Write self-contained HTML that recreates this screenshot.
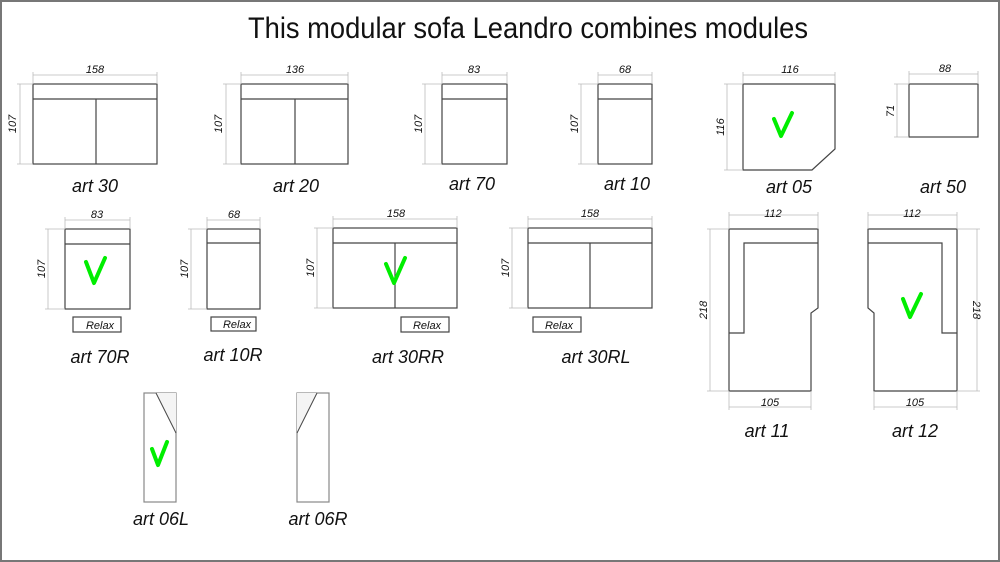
<!DOCTYPE html>
<html><head><meta charset="utf-8"><style>
html,body{margin:0;padding:0;background:#fff;}
svg{display:block;}
text{font-family:"Liberation Sans",Arial,sans-serif;fill:#111;}
.l{font-style:italic;font-size:18px;}
.d{font-style:italic;font-size:11px;}
.r{font-style:italic;font-size:11px;}
.s{fill:none;stroke:#444;stroke-width:1.2;}
.dm{fill:none;stroke:#bbb;stroke-width:0.8;}
.ck{fill:none;stroke:#00ee00;stroke-width:4;stroke-linecap:round;stroke-linejoin:round;}
</style></head><body>
<svg width="1000" height="562" viewBox="0 0 1000 562" xmlns="http://www.w3.org/2000/svg">
<rect x="1" y="1" width="998" height="560" fill="#fff" stroke="#777" stroke-width="2"/>
<text x="528" y="38" font-size="30" text-anchor="middle" textLength="560" lengthAdjust="spacingAndGlyphs">This modular sofa Leandro combines modules</text>

<!-- art 30 -->
<rect class="s" x="33" y="84" width="124" height="80"/><line class="s" x1="33" y1="99" x2="157" y2="99"/><line class="s" x1="96" y1="99" x2="96" y2="164"/>
<path class="dm" d="M33 75H157M33 72V84M157 72V84M20 84V164M17 84H33M17 164H33"/>
<text class="d" x="95" y="73" text-anchor="middle">158</text>
<text class="d" transform="translate(16,124) rotate(-90)" text-anchor="middle">107</text>
<text class="l" x="95" y="192" text-anchor="middle">art 30</text>

<!-- art 20 -->
<rect class="s" x="241" y="84" width="107" height="80"/><line class="s" x1="241" y1="99" x2="348" y2="99"/><line class="s" x1="295" y1="99" x2="295" y2="164"/>
<path class="dm" d="M241 75H348M241 72V84M348 72V84M226 84V164M223 84H241M223 164H241"/>
<text class="d" x="295" y="73" text-anchor="middle">136</text>
<text class="d" transform="translate(222,124) rotate(-90)" text-anchor="middle">107</text>
<text class="l" x="296" y="192" text-anchor="middle">art 20</text>

<!-- art 70 -->
<rect class="s" x="442" y="84" width="65" height="80"/><line class="s" x1="442" y1="99" x2="507" y2="99"/>
<path class="dm" d="M442 75H507M442 72V84M507 72V84M425 84V164M422 84H442M422 164H442"/>
<text class="d" x="474" y="73" text-anchor="middle">83</text>
<text class="d" transform="translate(422,124) rotate(-90)" text-anchor="middle">107</text>
<text class="l" x="472" y="190" text-anchor="middle">art 70</text>

<!-- art 10 -->
<rect class="s" x="598" y="84" width="54" height="80"/><line class="s" x1="598" y1="99" x2="652" y2="99"/>
<path class="dm" d="M598 75H652M598 72V84M652 72V84M581 84V164M578 84H598M578 164H598"/>
<text class="d" x="625" y="73" text-anchor="middle">68</text>
<text class="d" transform="translate(578,124) rotate(-90)" text-anchor="middle">107</text>
<text class="l" x="627" y="190" text-anchor="middle">art 10</text>

<!-- art 05 -->
<path class="s" d="M743 84H835V149L812 170H743Z"/>
<path class="dm" d="M743 75H835M743 72V84M835 72V84M727 84V170M724 84H743M724 170H743"/>
<text class="d" x="790" y="73" text-anchor="middle">116</text>
<text class="d" transform="translate(724,127) rotate(-90)" text-anchor="middle">116</text>
<path class="ck" d="M774 119L781 136L792 113"/>
<text class="l" x="789" y="193" text-anchor="middle">art 05</text>

<!-- art 50 -->
<rect class="s" x="909" y="84" width="69" height="53"/>
<path class="dm" d="M909 74H978M909 71V84M978 71V84M897 84V137M894 84H909M894 137H909"/>
<text class="d" x="945" y="72" text-anchor="middle">88</text>
<text class="d" transform="translate(894,111) rotate(-90)" text-anchor="middle">71</text>
<text class="l" x="943" y="193" text-anchor="middle">art 50</text>

<!-- art 70R -->
<rect class="s" x="65" y="229" width="65" height="80"/><line class="s" x1="65" y1="244" x2="130" y2="244"/>
<path class="dm" d="M65 220H130M65 217V229M130 217V229M48 229V309M45 229H65M45 309H65"/>
<text class="d" x="97" y="218" text-anchor="middle">83</text>
<text class="d" transform="translate(45,269) rotate(-90)" text-anchor="middle">107</text>
<path class="ck" d="M86 262L94 283L105 258"/>
<rect class="s" x="73" y="317" width="48" height="15"/><text class="r" x="100" y="329" text-anchor="middle">Relax</text>
<text class="l" x="100" y="363" text-anchor="middle">art 70R</text>

<!-- art 10R -->
<rect class="s" x="207" y="229" width="53" height="80"/><line class="s" x1="207" y1="243" x2="260" y2="243"/>
<path class="dm" d="M207 220H260M207 217V229M260 217V229M191 229V309M188 229H207M188 309H207"/>
<text class="d" x="234" y="218" text-anchor="middle">68</text>
<text class="d" transform="translate(188,269) rotate(-90)" text-anchor="middle">107</text>
<rect class="s" x="211" y="317" width="45" height="14"/><text class="r" x="237" y="328" text-anchor="middle">Relax</text>
<text class="l" x="233" y="361" text-anchor="middle">art 10R</text>

<!-- art 30RR -->
<rect class="s" x="333" y="228" width="124" height="80"/><line class="s" x1="333" y1="243" x2="457" y2="243"/><line class="s" x1="395" y1="243" x2="395" y2="308"/>
<path class="dm" d="M333 219H457M333 216V228M457 216V228M317 228V308M314 228H333M314 308H333"/>
<text class="d" x="396" y="217" text-anchor="middle">158</text>
<text class="d" transform="translate(314,268) rotate(-90)" text-anchor="middle">107</text>
<path class="ck" d="M386 264L394 283L405 258"/>
<rect class="s" x="401" y="317" width="48" height="15"/><text class="r" x="427" y="329" text-anchor="middle">Relax</text>
<text class="l" x="408" y="363" text-anchor="middle">art 30RR</text>

<!-- art 30RL -->
<rect class="s" x="528" y="228" width="124" height="80"/><line class="s" x1="528" y1="243" x2="652" y2="243"/><line class="s" x1="590" y1="243" x2="590" y2="308"/>
<path class="dm" d="M528 219H652M528 216V228M652 216V228M512 228V308M509 228H528M509 308H528"/>
<text class="d" x="590" y="217" text-anchor="middle">158</text>
<text class="d" transform="translate(509,268) rotate(-90)" text-anchor="middle">107</text>
<rect class="s" x="533" y="317" width="48" height="15"/><text class="r" x="559" y="329" text-anchor="middle">Relax</text>
<text class="l" x="596" y="363" text-anchor="middle">art 30RL</text>

<!-- art 11 -->
<path class="s" d="M729 229H818V308L811 313V391H729Z"/>
<path class="s" d="M818 243H744V333H729"/>
<path class="dm" d="M729 215H818M729 212V229M818 212V229M710 229V391M707 229H729M707 391H729M729 407H811M729 391V410M811 391V410"/>
<text class="d" x="773" y="217" text-anchor="middle">112</text>
<text class="d" x="770" y="406" text-anchor="middle">105</text>
<text class="d" transform="translate(707,310) rotate(-90)" text-anchor="middle">218</text>
<text class="l" x="767" y="437" text-anchor="middle">art 11</text>

<!-- art 12 -->
<path class="s" d="M957 229H868V308L874 313V391H957Z"/>
<path class="s" d="M868 243H942V333H957"/>
<path class="dm" d="M868 215H957M868 212V229M957 212V229M977 229V391M957 229H980M957 391H980M874 407H957M874 391V410M957 391V410"/>
<text class="d" x="912" y="217" text-anchor="middle">112</text>
<text class="d" x="915" y="406" text-anchor="middle">105</text>
<text class="d" transform="translate(973,310) rotate(90)" text-anchor="middle">218</text>
<path class="ck" d="M903 299L910 317L921 294"/>
<text class="l" x="915" y="437" text-anchor="middle">art 12</text>

<!-- art 06L -->
<rect x="144" y="393" width="32" height="109" fill="none" stroke="#888" stroke-width="1.2"/>
<path d="M156 393L176 433V393Z" fill="#f4f4f4"/><line x1="156" y1="393" x2="176" y2="433" stroke="#444" stroke-width="1"/>
<path class="ck" d="M152 449L158 465L167 442"/>
<text class="l" x="161" y="525" text-anchor="middle">art 06L</text>

<!-- art 06R -->
<rect x="297" y="393" width="32" height="109" fill="none" stroke="#888" stroke-width="1.2"/>
<path d="M317 393L297 433V393Z" fill="#f4f4f4"/><line x1="317" y1="393" x2="297" y2="433" stroke="#444" stroke-width="1"/>
<text class="l" x="318" y="525" text-anchor="middle">art 06R</text>
</svg>
</body></html>
